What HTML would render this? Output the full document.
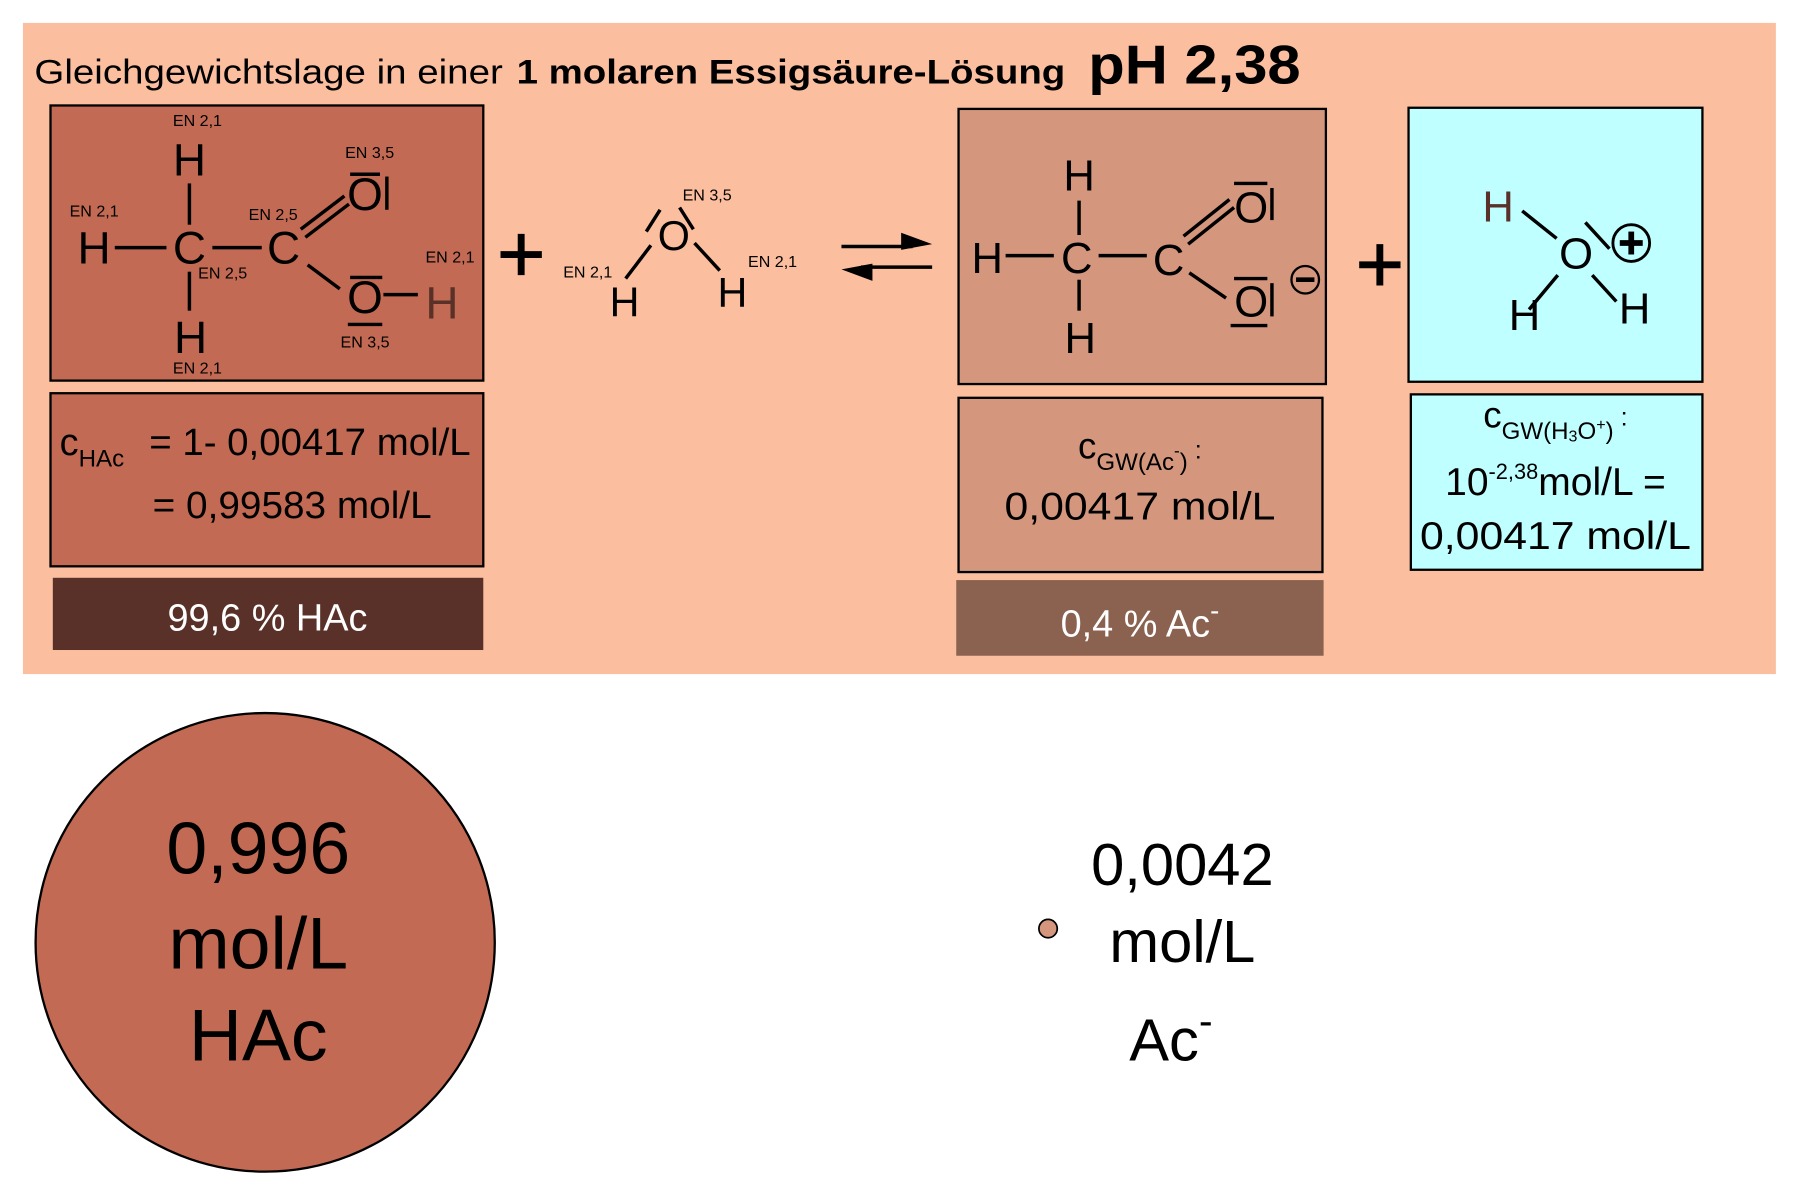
<!DOCTYPE html>
<html><head><meta charset="utf-8"><style>
html,body{margin:0;padding:0;background:#fff;}
svg{display:block;}
text{font-family:"Liberation Sans",Arial,sans-serif;}
</style></head><body>
<svg width="1800" height="1198" viewBox="0 0 1568 1045" preserveAspectRatio="none" xmlns="http://www.w3.org/2000/svg">
<rect x="0" y="0" width="1568" height="1045" fill="#fff"/>
<rect x="20" y="20" width="1527" height="568" fill="#FBBFA0"/>
<text x="30" y="73" font-size="30" textLength="408" lengthAdjust="spacingAndGlyphs">Gleichgewichtslage in einer</text>
<text x="450" y="73" font-size="30" font-weight="bold" textLength="478" lengthAdjust="spacingAndGlyphs">1 molaren Essigsäure-Lösung</text>
<text x="948" y="73" font-size="48" font-weight="bold" textLength="185" lengthAdjust="spacingAndGlyphs">pH 2,38</text>

<rect x="44" y="92" width="377" height="240" fill="#C26A53" stroke="#000" stroke-width="2"/>
<rect x="44" y="343" width="377" height="151" fill="#C26A53" stroke="#000" stroke-width="2"/>
<rect x="46" y="504" width="375" height="63" fill="#5A3128"/>
<text x="233" y="550" font-size="33" fill="#fff" text-anchor="middle">99,6 % HAc</text>

<rect x="835" y="95" width="320" height="240" fill="#D4967D" stroke="#000" stroke-width="2"/>
<rect x="835" y="347" width="317" height="152" fill="#D4967D" stroke="#000" stroke-width="2"/>
<rect x="833" y="506" width="320" height="66" fill="#8B6150"/>
<text x="993" y="555" font-size="33" fill="#fff" text-anchor="middle">0,4 % Ac<tspan font-size="24" dy="-14">-</tspan></text>

<rect x="1227" y="94" width="256" height="239" fill="#C0FFFF" stroke="#000" stroke-width="2"/>
<rect x="1229" y="344" width="254" height="153" fill="#C0FFFF" stroke="#000" stroke-width="2"/>

<text x="52" y="397" font-size="33">c<tspan font-size="21" dy="10">HAc</tspan></text>
<text x="130" y="397" font-size="33" textLength="280" lengthAdjust="spacingAndGlyphs">= 1- 0,00417 mol/L</text>
<text x="133" y="452" font-size="33" textLength="243" lengthAdjust="spacingAndGlyphs">= 0,99583 mol/L</text>

<text x="993" y="400" font-size="32" text-anchor="middle">c<tspan font-size="21" dy="10">GW(Ac</tspan><tspan font-size="15" dy="-12">-</tspan><tspan font-size="21" dy="12">)</tspan><tspan font-size="22" dy="-10"> :</tspan></text>
<text x="993" y="453" font-size="34" text-anchor="middle" textLength="236" lengthAdjust="spacingAndGlyphs">0,00417 mol/L</text>

<text x="1355" y="373" font-size="32" text-anchor="middle">c<tspan font-size="21" dy="10">GW(H</tspan><tspan font-size="14" dy="2">3</tspan><tspan font-size="21" dy="-2">O</tspan><tspan font-size="14" dy="-8">+</tspan><tspan font-size="21" dy="8">)</tspan><tspan font-size="22" dy="-12"> :</tspan></text>
<text x="1355" y="432" font-size="34" text-anchor="middle">10<tspan font-size="19" dy="-14">-2,38</tspan><tspan dy="14">mol/L =</tspan></text>
<text x="1355" y="479" font-size="34" text-anchor="middle" textLength="236" lengthAdjust="spacingAndGlyphs">0,00417 mol/L</text>

<g font-size="40" text-anchor="middle">
<text x="165" y="153">H</text>
<text x="82" y="230">H</text>
<text x="165" y="230">C</text>
<text x="247" y="230">C</text>
<text x="318" y="183">O</text>
<text x="318" y="273">O</text>
<text x="385" y="278" fill="#5A3128">H</text>
<text x="166" y="308">H</text>
</g>
<g stroke="#000" stroke-width="3" fill="none">
<line x1="100" y1="216" x2="145" y2="216"/>
<line x1="185" y1="216" x2="228" y2="216"/>
<line x1="165" y1="160" x2="165" y2="196"/>
<line x1="165" y1="237" x2="165" y2="271"/>
<line x1="262" y1="200" x2="300" y2="171"/>
<line x1="266" y1="207" x2="304" y2="178"/>
<line x1="268" y1="231" x2="296" y2="252"/>
<line x1="334" y1="257" x2="364" y2="257"/>
<line x1="305" y1="152" x2="331" y2="152"/>
<line x1="337" y1="154" x2="337" y2="183"/>
<line x1="305" y1="242" x2="333" y2="242"/>
<line x1="303" y1="283" x2="333" y2="283"/>
</g>
<g font-size="14" text-anchor="middle">
<text x="172" y="110">EN 2,1</text>
<text x="322" y="138">EN 3,5</text>
<text x="82" y="189">EN 2,1</text>
<text x="238" y="192">EN 2,5</text>
<text x="194" y="243">EN 2,5</text>
<text x="392" y="229">EN 2,1</text>
<text x="318" y="303">EN 3,5</text>
<text x="172" y="326">EN 2,1</text>
</g>

<g stroke="#000" stroke-width="6">
<line x1="436" y1="222" x2="472" y2="222"/>
<line x1="454" y1="204" x2="454" y2="240"/>
<line x1="1184" y1="231" x2="1220" y2="231"/>
<line x1="1202" y1="213" x2="1202" y2="249"/>
</g>

<g font-size="36" text-anchor="middle">
<text x="587" y="218">O</text>
<text x="544" y="276">H</text>
<text x="638" y="268">H</text>
</g>
<g stroke="#000" stroke-width="3">
<line x1="563" y1="202" x2="575" y2="183"/>
<line x1="592" y1="181" x2="604" y2="200"/>
<line x1="545" y1="243" x2="567" y2="214"/>
<line x1="605" y1="212" x2="627" y2="236"/>
</g>
<g font-size="14" text-anchor="middle">
<text x="616" y="175">EN 3,5</text>
<text x="512" y="242">EN 2,1</text>
<text x="673" y="233">EN 2,1</text>
</g>

<g stroke="#000" stroke-width="3">
<line x1="733" y1="215" x2="795" y2="215"/>
<line x1="750" y1="233" x2="812" y2="233"/>
</g>
<polygon points="812,213 785,203 785,218" fill="#000"/>
<polygon points="733,235 760,230 760,245" fill="#000"/>

<g font-size="38" text-anchor="middle">
<text x="940" y="166">H</text>
<text x="860" y="238">H</text>
<text x="938" y="238">C</text>
<text x="1018" y="240">C</text>
<text x="1090" y="194">O</text>
<text x="1090" y="276">O</text>
<text x="941" y="308">H</text>
</g>
<g stroke="#000" stroke-width="3" fill="none">
<line x1="876" y1="223" x2="918" y2="223"/>
<line x1="957" y1="223" x2="999" y2="223"/>
<line x1="940" y1="175" x2="940" y2="205"/>
<line x1="940" y1="244" x2="940" y2="271"/>
<line x1="1031" y1="206" x2="1071" y2="174"/>
<line x1="1035" y1="213" x2="1075" y2="181"/>
<line x1="1036" y1="238" x2="1068" y2="260"/>
<line x1="1075" y1="160" x2="1104" y2="160"/>
<line x1="1108" y1="164" x2="1108" y2="192"/>
<line x1="1075" y1="243" x2="1104" y2="243"/>
<line x1="1108" y1="247" x2="1108" y2="276"/>
<line x1="1072" y1="284" x2="1104" y2="284"/>
</g>
<circle cx="1137" cy="244" r="12" fill="none" stroke="#000" stroke-width="2"/>
<line x1="1129" y1="244" x2="1145" y2="244" stroke="#000" stroke-width="4"/>

<g font-size="38" text-anchor="middle">
<text x="1305" y="193" fill="#5A3128">H</text>
<text x="1373" y="234">O</text>
<text x="1328" y="288">H</text>
<text x="1424" y="282">H</text>
</g>
<g stroke="#000" stroke-width="3">
<line x1="1326" y1="184" x2="1356" y2="208"/>
<line x1="1357" y1="240" x2="1332" y2="270"/>
<line x1="1387" y1="240" x2="1408" y2="263"/>
<line x1="1381" y1="194" x2="1402" y2="217"/>
</g>
<circle cx="1421" cy="212" r="16" fill="none" stroke="#000" stroke-width="2.5"/>
<line x1="1411" y1="212" x2="1431" y2="212" stroke="#000" stroke-width="5"/>
<line x1="1421" y1="202" x2="1421" y2="222" stroke="#000" stroke-width="5"/>

<circle cx="231" cy="822" r="200" fill="#C26A53" stroke="#000" stroke-width="2"/>
<g font-size="64" text-anchor="middle">
<text x="225" y="762">0,996</text>
<text x="225" y="845">mol/L</text>
<text x="225" y="925">HAc</text>
</g>

<circle cx="913" cy="810" r="8" fill="#D4967D" stroke="#000" stroke-width="1.5"/>
<g font-size="52" text-anchor="middle">
<text x="1030" y="772">0,0042</text>
<text x="1030" y="839">mol/L</text>
<text x="1020" y="925">Ac<tspan font-size="36" dy="-22">-</tspan></text>
</g>
</svg>
</body></html>
